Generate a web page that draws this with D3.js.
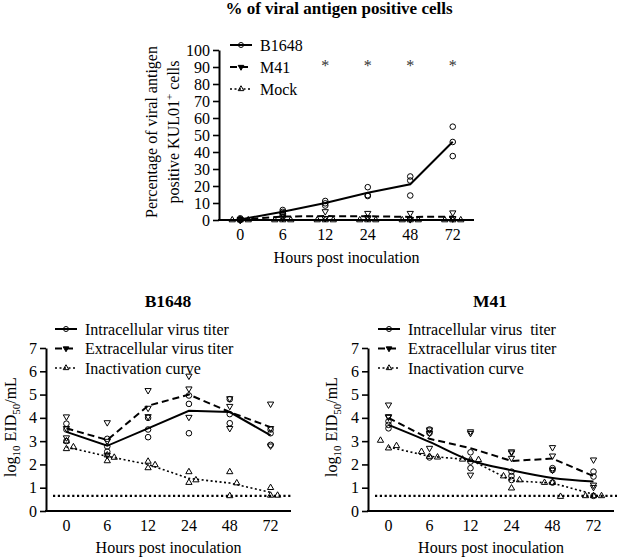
<!DOCTYPE html>
<html><head><meta charset="utf-8">
<script src="https://cdn.jsdelivr.net/npm/d3@7"></script>
<style>
body{margin:0;background:#fff;}
svg{display:block;}
svg text{font-family:"Liberation Serif","Tinos","DejaVu Serif","Times New Roman",Times,serif;fill:#000;}
</style></head>
<body>
<svg id="c" width="617" height="557"></svg>
<script>
// ---------- DATA ----------
const hours = ["0","6","12","24","48","72"];

// Top panel: % viral antigen positive KUL01+ cells
const topYTicks = [0,10,20,30,40,50,60,70,80,90,100];
const b1648Mean = [0.3, 4.9, 10, 16, 21, 46];
const b1648Pts  = [[0,0.5,1],[5.9,4.8,4.0],[11.2,9.8,8.5],[19.3,14.6,14.1],[25.6,23.2,14.4],[54.9,45.9,37.6]];
const m41Mean   = [0.2, 2, 2.3, 2.2, 1.8, 2];
const m41Pts    = [[0,0.3,0],[3,2,1],[5,1,1],[4,1.5,1],[4,0.5,0.3],[4.3,1,0.7]];
const mockMean  = [0,0,0,0,0,0];
const mockPts   = [[0,0,0],[0,0,0],[0,0,0],[0,0,0],[0,0,0],[0,0,0]];
const signifHours = ["12","24","48","72"];
const topSeriesNames = ["B1648","M41","Mock"];

// Bottom panels: log10 EID50/mL
const botYTicks = [0,1,2,3,4,5,6,7];
const detectionLimit = 0.65;
const botSeriesNames = ["Intracellular virus titer","Extracellular virus titer","Inactivation curve"];
const botSeriesNamesM41 = ["Intracellular virus  titer","Extracellular virus titer","Inactivation curve"];

// B1648
const bIntraMean = [3.4, 2.8, 3.55, 4.3, 4.25, 3.25];
const bIntraPts  = [[3.75,3.5,3.0],[3.1,2.77,2.55],[4.0,3.5,3.17],[4.6,4.96,3.34],[4.8,4.16,3.77],[3.5,3.34,2.84]];
const bExtraMean = [3.55, 3.05, 4.52, 5.0, 4.25, 3.6];
const bExtraPts  = [[4.05,3.55,3.15],[3.8,3.0,2.4],[5.18,4.42,4.06],[5.8,5.25,4.03],[4.83,4.5,3.55],[4.6,3.55,2.8]];
const bInactMean = [2.75, 2.35, 2.0, 1.4, 1.2, 0.8];
const bInactPts  = [[3.0,2.67,2.75],[2.4,2.15,2.3],[2.13,1.85,1.98],[1.68,1.22,1.33],[1.68,0.65,1.2],[1.0,0.67,0.67]];

// M41
const mIntraMean = [3.7, 2.97, 2.17, 1.75, 1.42, 1.27];
const mIntraPts  = [[3.85,3.7,3.55],[3.5,3.35,2.3],[2.52,2.12,1.84],[1.69,1.5,1.33],[1.84,1.76,1.22],[1.69,1.48,0.65]];
const mExtraMean = [4.0, 3.1, 2.7, 2.15, 2.25, 1.5];
const mExtraPts  = [[4.56,4.06,4.03],[3.49,3.34,2.7],[3.41,3.34,1.55],[2.55,2.5,2.27],[2.73,2.37,1.76],[2.2,1.12,1.02]];
const mInactMean = [2.75, 2.35, 2.2, 1.3, 1.2, 0.72];
const mInactPts  = [[3.03,2.7,2.8],[2.55,2.34,2.31],[2.22,2.2,2.2],[1.5,0.98,1.33],[1.22,1.22,0.62],[0.65,0.65,0.65]];

// ---------- DRAWING ----------
const svg = d3.select("#c");
const FS = 16;
const SERIF = "Liberation Serif, Tinos, DejaVu Serif, Times New Roman, serif";

function marker(g, kind, x, y, scale=1, filled=false){
  let p;
  if(kind==="circle"){
    p = g.append("circle").attr("cx",x).attr("cy",y).attr("r",2.8*scale);
  } else {
    const sym = d3.symbol().type(d3.symbolTriangle).size(17*scale*scale);
    p = g.append("path").attr("d",sym())
      .attr("transform",`translate(${x},${y})` + (kind==="down"?" rotate(180)":""));
  }
  p.attr("fill", filled?"#000":"none").attr("stroke","#000").attr("stroke-width",1);
  return p;
}

const styles = {
  solid: {dash:null, w:2},
  dashed: {dash:"7,4", w:2},
  dotted: {dash:"2,2.5", w:1.6}
};

function drawPanel(cfg){
  const g = svg.append("g");
  const x = d3.scaleBand().domain(hours).range(cfg.xRange).paddingInner(0).paddingOuter(0);
  const y = d3.scaleLinear().domain(cfg.yDomain).range(cfg.yRange);
  const cx = h => x(h) + x.bandwidth()/2;

  const ya = g.append("g").attr("transform",`translate(${cfg.xRange[0]},0)`)
    .call(d3.axisLeft(y).tickValues(cfg.yTicks).tickFormat(d3.format("d")).tickSize(6).tickSizeOuter(0).tickPadding(3));
  ya.attr("font-family",SERIF).attr("font-size",FS);
  ya.select(".domain").attr("stroke-width",2);
  ya.selectAll(".tick line").attr("stroke-width",1.6);

  const xa = g.append("g").attr("transform",`translate(0,${cfg.yRange[0]})`)
    .call(d3.axisBottom(x).tickSize(0).tickPadding(9).tickSizeOuter(0));
  xa.attr("font-family",SERIF).attr("font-size",FS);
  xa.select(".domain").attr("stroke-width",2).attr("d",`M${cfg.xRange[0]-1},0H${cfg.xRange[1]}`);

  if(cfg.limit!=null){
    g.append("line").attr("x1",cfg.xRange[0]+7).attr("x2",cfg.limitEnd)
      .attr("y1",y(cfg.limit)).attr("y2",y(cfg.limit))
      .attr("stroke","#000").attr("stroke-width",2.4).attr("stroke-dasharray","2.2,2.6");
  }

  cfg.series.forEach(s=>{
    const st = styles[s.style];
    const line = d3.line().x((d,i)=>cx(hours[i])).y(d=>y(d)).curve(s.curve||d3.curveLinear);
    g.append("path").attr("d",line(s.mean)).attr("fill","none").attr("stroke","#000")
      .attr("stroke-width",st.w).attr("stroke-dasharray",st.dash);
    s.pts.forEach((arr,i)=>{
      arr.forEach((v,j)=>{
        const off = (s.jitter? s.jitter[j]:0)*cfg.jit;
        marker(g, s.marker, cx(hours[i])+off, y(v));
      });
    });
  });

  cfg.series.forEach((s,i)=>{
    const ly = cfg.legend.y + i*cfg.legend.dy;
    const st = styles[s.style];
    g.append("line").attr("x1",cfg.legend.x).attr("x2",cfg.legend.x+cfg.legend.len)
      .attr("y1",ly).attr("y2",ly).attr("stroke","#000").attr("stroke-width",st.w)
      .attr("stroke-dasharray",st.dash);
    marker(g, s.marker, cfg.legend.x+cfg.legend.len/2, ly, 0.9, s.marker==="down");
    g.append("text").attr("x",cfg.legend.x+cfg.legend.len+8).attr("y",ly+5.5)
      .attr("font-size",FS).attr("font-family",SERIF).attr("xml:space","preserve").style("white-space","pre").text(s.name);
  });

  g.append("text").attr("x",(cfg.xRange[0]+cfg.xRange[1])/2).attr("y",cfg.xTitleY)
    .attr("text-anchor","middle").attr("font-size",FS).attr("font-family",SERIF).text("Hours post inoculation");
  return {g,x,y,cx};
}

// ---- Top panel ----
svg.append("text").attr("x",339).attr("y",14).attr("text-anchor","middle").attr("font-family",SERIF)
  .attr("font-size",17).attr("font-weight","bold").text("% of viral antigen positive cells");

const topPanel = drawPanel({
  xRange:[219,474], yDomain:[0,100], yRange:[220,50], yTicks:topYTicks, jit:8,
  xTitleY:263,
  legend:{x:230,y:45,dy:22,len:22},
  series:[
    {name:topSeriesNames[0], mean:b1648Mean, pts:b1648Pts, marker:"circle", style:"solid"},
    {name:topSeriesNames[1], mean:m41Mean, pts:m41Pts, marker:"down", style:"dashed"},
    {name:topSeriesNames[2], mean:mockMean, pts:mockPts, marker:"up", style:"dotted", jitter:[-1,0,1]}
  ]
});
signifHours.forEach(h=>{
  svg.append("text").attr("x",topPanel.cx(h)).attr("y",topPanel.y(92)+7).attr("text-anchor","middle")
    .attr("font-family",SERIF).attr("font-size",16).attr("fill","#333").style("fill","#333").text("*");
});
const tl = svg.append("text").attr("transform","translate(157,132) rotate(-90)")
  .attr("text-anchor","middle").attr("font-size",FS).attr("font-family",SERIF);
tl.text("Percentage of viral antigen");
const tl2 = svg.append("text").attr("transform","translate(179,132) rotate(-90)")
  .attr("text-anchor","middle").attr("font-size",FS).attr("font-family",SERIF);
tl2.append("tspan").text("positive KUL01");
tl2.append("tspan").attr("dy",-6).attr("font-size",11).text("+");
tl2.append("tspan").attr("dy",6).text(" cells");

// ---- Bottom panels ----
function yLabel(xb){
  const t = svg.append("text").attr("transform",`translate(${xb},427) rotate(-90)`)
    .attr("text-anchor","middle").attr("font-size",FS).attr("font-family",SERIF);
  t.append("tspan").text("log");
  t.append("tspan").attr("dy",4).attr("font-size",11).text("10");
  t.append("tspan").attr("dy",-4).text(" EID");
  t.append("tspan").attr("dy",4).attr("font-size",11).text("50");
  t.append("tspan").attr("dy",-4).text("/mL");
}

const leftPanel = drawPanel({
  xRange:[46,291], yDomain:[0,7], yRange:[511,348], yTicks:botYTicks, jit:7,
  xTitleY:553, limit:detectionLimit, limitEnd:293,
  legend:{x:55,y:329,dy:19.5,len:22},
  series:[
    {name:botSeriesNames[0], mean:bIntraMean, pts:bIntraPts, marker:"circle", style:"solid"},
    {name:botSeriesNames[1], mean:bExtraMean, pts:bExtraPts, marker:"down", style:"dashed"},
    {name:botSeriesNames[2], mean:bInactMean, pts:bInactPts, marker:"up", style:"dotted", jitter:[0,0,1]}
  ]
});
svg.append("text").attr("x",168).attr("y",307).attr("text-anchor","middle").attr("font-family",SERIF)
  .attr("font-size",17.5).attr("font-weight","bold").text("B1648");
yLabel(16);

const rightPanel = drawPanel({
  xRange:[368,614], yDomain:[0,7], yRange:[511,348], yTicks:botYTicks, jit:8,
  xTitleY:553, limit:detectionLimit, limitEnd:617,
  legend:{x:378,y:329,dy:19.5,len:22},
  series:[
    {name:botSeriesNamesM41[0], mean:mIntraMean, pts:mIntraPts, marker:"circle", style:"solid", curve:d3.curveMonotoneX},
    {name:botSeriesNamesM41[1], mean:mExtraMean, pts:mExtraPts, marker:"down", style:"dashed"},
    {name:botSeriesNamesM41[2], mean:mInactMean, pts:mInactPts, marker:"up", style:"dotted", jitter:[-1,0,1]}
  ]
});
svg.append("text").attr("x",490).attr("y",307).attr("text-anchor","middle").attr("font-family",SERIF)
  .attr("font-size",17.5).attr("font-weight","bold").text("M41");
yLabel(337);
</script>
</body></html>
